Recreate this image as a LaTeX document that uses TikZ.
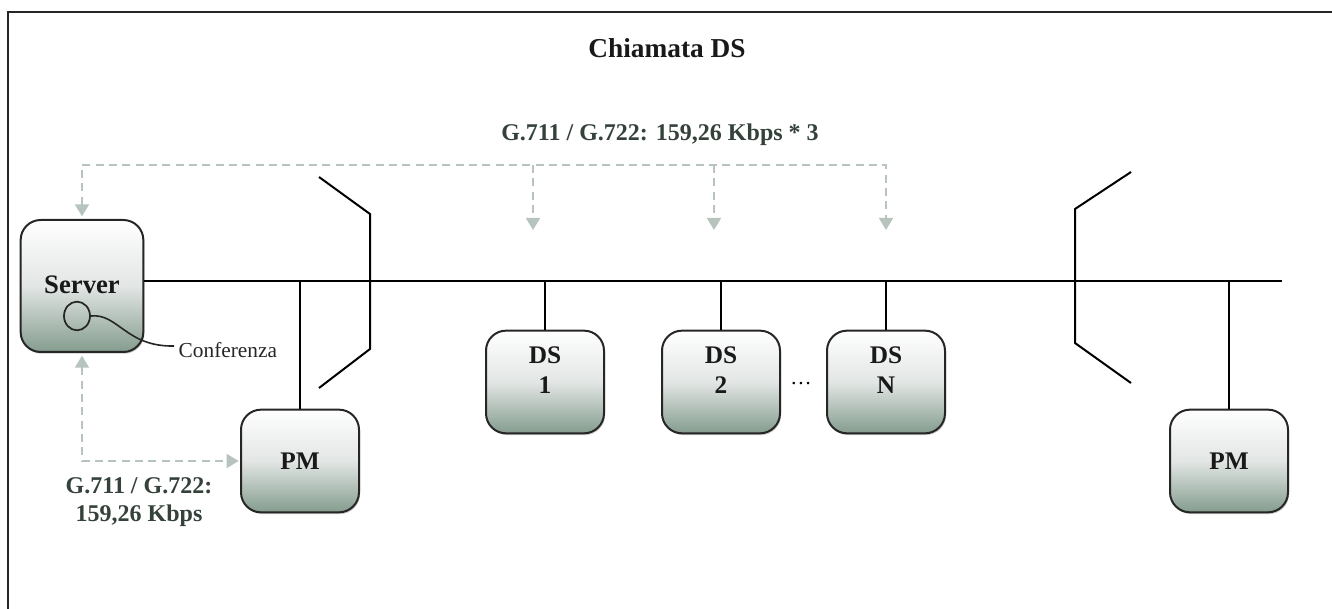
\documentclass[tikz,border=0pt]{standalone}
\usepackage{fontspec}
\setmainfont{Liberation Serif}
\usetikzlibrary{arrows.meta,shadows,shapes.geometric,calc}

\definecolor{flowc}{RGB}{182,196,189}
\definecolor{lblc}{RGB}{52,66,58}
\definecolor{boxbot}{RGB}{132,156,142}
\definecolor{boxmid}{RGB}{226,230,228}

\tikzset{
  unitbox/.style={draw=black!85, line width=1.5pt, rounded corners=15pt,
    top color=white, bottom color=boxbot, middle color=boxmid,
    drop shadow={shadow xshift=0.8pt, shadow yshift=-1.3pt, opacity=0.35, fill=black!60},
    minimum width=88.5pt, minimum height=77pt, inner sep=0pt},
  boxtext/.style={font=\fontsize{19}{23}\selectfont\bfseries, text=black!90, align=center},
  rate/.style={font=\fontsize{18}{21}\selectfont\bfseries, text=lblc, align=center},
  bus/.style={line width=1.5pt, black},
  frame/.style={line width=1.6pt, black!85},
  tip/.style={Triangle[width=10.5pt,length=9pt,flowc]},
  flow/.style={line width=1.3pt, flowc, dash pattern=on 6pt off 4pt,
    arrows={-Triangle[width=10.5pt,length=9pt,flowc]}},
  flowboth/.style={flow, arrows={Triangle[width=10.5pt,length=9pt,flowc]-Triangle[width=10.5pt,length=9pt,flowc]}},
}

\begin{document}
\begin{tikzpicture}[x=0.75pt,y=-0.75pt]
  \useasboundingbox (0,0) rectangle (1332,609);

  % outer frame (top and left edges)
  \draw[frame] (8,609) -- (8,12) -- (1332,12);

  % title
  \node[font=\fontsize{20.5}{24}\selectfont\bfseries, text=black!90] (title) at (667,48) {Chiamata DS};

  % units
  \node[unitbox, minimum width=92pt, minimum height=99pt] (server) at (82,286) {};
  \node[boxtext, font=\fontsize{20}{24}\selectfont\bfseries] (srvlbl) at (82,285) {Server};
  \node[unitbox] (pm1) at (300,461) {};
  \node[boxtext] at (pm1) {PM};
  \node[unitbox] (ds1) at (545,382) {};
  \node[boxtext] at ([yshift=9pt]ds1.center) {DS\\1};
  \node[unitbox] (ds2) at (721,382) {};
  \node[boxtext] at ([yshift=9pt]ds2.center) {DS\\2};
  \node[unitbox] (dsn) at (886,382) {};
  \node[boxtext] at ([yshift=9pt]dsn.center) {DS\\N};
  \node[unitbox] (pm2) at (1229,461) {};
  \node[boxtext] at (pm2) {PM};

  \node[font=\fontsize{16}{19}\selectfont, anchor=base] (dots) at (801,385) {\dots};

  % conference inside the server
  \node[ellipse, draw=black!85, line width=1.3pt, minimum width=19.5pt, minimum height=21.5pt, inner sep=0pt] (conf) at (77,316) {};
  \node[font=\fontsize{16}{19}\selectfont, text=black!85, anchor=west] (conftxt) at (174,350) {Conferenza};
  \draw[line width=1.2pt, black!85] (conf.east) .. controls (118,313) and (126,347) .. ([yshift=3pt]conftxt.west);

  % bus
  \coordinate (busR) at (1282,281);
  \draw[bus] (server.east |- busR) -- (busR);
  \draw[bus] (pm1.north) -- (pm1.north |- busR);
  \draw[bus] (ds1.north) -- (ds1.north |- busR);
  \draw[bus] (ds2.north) -- (ds2.north |- busR);
  \draw[bus] (dsn.north) -- (dsn.north |- busR);
  \draw[bus] (pm2.north) -- (pm2.north |- busR);

  % segment separators
  \draw[bus] (319,177) -- (370,214) -- (370,349) -- (319,388);
  \draw[bus] (1131,172) -- (1075,209) -- (1075,343) -- (1131,383);

  % media flows
  \coordinate (a1) at (533,230);
  \coordinate (a2) at (714,230);
  \coordinate (a3) at (886,230);
  \coordinate (toprow) at (0,165);
  \draw[flowboth, shorten <=2pt] (server.north) |- (a3 |- toprow) -- (a3);
  \draw[flow] (a1 |- toprow) -- (a1);
  \draw[flow] (a2 |- toprow) -- (a2);
  \draw[flowboth, shorten <=2pt, shorten >=1pt] (server.south) |- (pm1.west);

  \node[rate] (ratetop) at (660,135) {G.711 / G.722: 159,26 Kbps * 3};
  \node[rate] (ratebot) at (139,502) {G.711 / G.722:\\159,26 Kbps};
\end{tikzpicture}
\end{document}
